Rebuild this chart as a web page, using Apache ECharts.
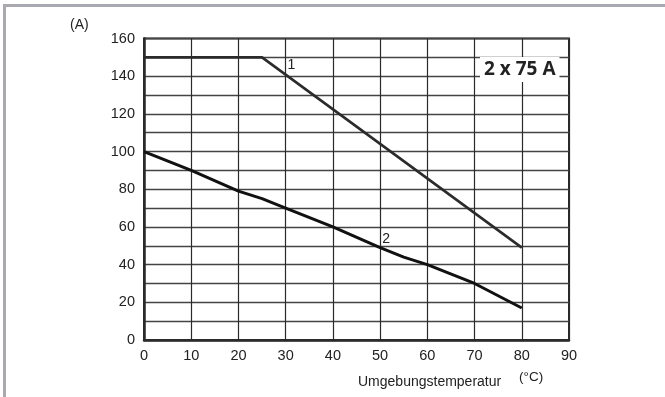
<!DOCTYPE html>
<html><head><meta charset="utf-8">
<script src="https://cdn.jsdelivr.net/npm/echarts@6/dist/echarts.min.js"></script>
<style>html,body{margin:0;padding:0;background:#fff}#c{width:665px;height:397px}</style>
</head><body><div id="c"></div>
<script>
var series1X = [0, 25, 80];
var series1Y = [150, 150, 49];
var series2X = [0, 10, 20, 25, 30, 40, 50, 55, 60, 70, 80];
var series2Y = [100, 90, 79, 75, 70, 60, 49, 44, 40, 30, 17];
var xTicks = [0, 10, 20, 30, 40, 50, 60, 70, 80, 90];
var yTicks = [0, 20, 40, 60, 80, 100, 120, 140, 160];
var label1 = {x: 31.2, y: 146, text: '1'};
var label2 = {x: 51.3, y: 53.5, text: '2'};
var badgeText = '2 x 75 A';
var yUnit = '(A)';
var xTitle = 'Umgebungstemperatur';
var xUnit = '(°C)';

function pairs(xs, ys){ return xs.map(function(x,i){return [x, ys[i]];}); }

var chart = echarts.init(document.getElementById('c'), null, {renderer:'canvas'});
var font = '"Liberation Sans", Arial, sans-serif';
chart.setOption({
  animation: false,
  grid: {left: 144, right: 96, top: 38.5, bottom: 57, show: true, borderColor: '#2a2a2a', borderWidth: 2, backgroundColor: 'transparent'},
  xAxis: {
    type: 'value', min: 0, max: 90, interval: 10,
    axisLine: {show: true, lineStyle: {color: '#2a2a2a', width: 2.5}},
    axisTick: {show: false},
    axisLabel: {color: '#222', fontSize: 14.5, fontFamily: font, margin: 8,
      formatter: function(v){ return xTicks.indexOf(v) >= 0 ? String(v) : ''; }},
    splitLine: {show: true, lineStyle: {color: '#2a2a2a', width: 1.2}}
  },
  yAxis: {
    type: 'value', min: 0, max: 160, interval: 10,
    axisLine: {show: true, lineStyle: {color: '#2a2a2a', width: 2.5}},
    axisTick: {show: false},
    axisLabel: {color: '#222', fontSize: 14.5, fontFamily: font, margin: 9,
      formatter: function(v){ return yTicks.indexOf(v) >= 0 ? String(v) : ''; }},
    splitLine: {show: true, lineStyle: {color: '#444', width: 1.3}}
  },
  series: [
    {type: 'line', data: pairs(series1X, series1Y), symbol: 'none', z: 5,
     lineStyle: {color: '#2b2b2b', width: 2.6},
     markPoint: {symbol: 'circle', symbolSize: 0, data: [{coord: [label1.x, label1.y], value: label1.text}],
       label: {show: true, position: 'inside', color: '#222', fontSize: 14, fontFamily: font, formatter: label1.text}}},
    {type: 'line', data: pairs(series2X, series2Y), symbol: 'none', z: 5,
     lineStyle: {color: '#111', width: 3},
     markPoint: {symbol: 'circle', symbolSize: 0, data: [{coord: [label2.x, label2.y], value: label2.text}],
       label: {show: true, position: 'inside', color: '#222', fontSize: 14, fontFamily: font, formatter: label2.text}}}
  ],
  graphic: [
    {type: 'rect', shape: {x: 3, y: 4, width: 662, height: 3}, style: {fill: '#a9a9b1'}, z: 100},
    {type: 'rect', shape: {x: 3, y: 4, width: 3, height: 393}, style: {fill: '#a9a9b1'}, z: 100},
    {type: 'text', left: 70, top: 18, style: {text: yUnit, fill: '#222', font: '14px ' + font}, z: 100},
    {type: 'text', left: 358, top: 375, style: {text: xTitle, fill: '#222', font: '14px ' + font}, z: 100},
    {type: 'text', left: 519, top: 370, style: {text: xUnit, fill: '#222', font: '13.5px ' + font}, z: 100},
    {type: 'text', left: 480, top: 57, style: {text: badgeText, fill: '#222', font: 'bold 19px "Open Sans", sans-serif', backgroundColor: '#fff', padding: [3, 4, 3, 4]}, z: 100}
  ]
});
</script></body></html>
